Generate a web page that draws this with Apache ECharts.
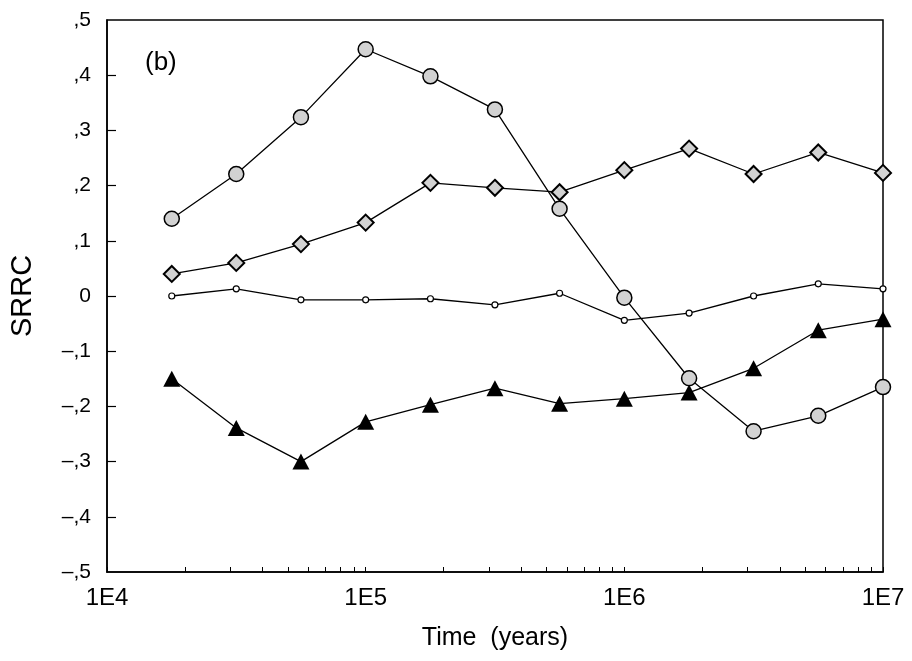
<!DOCTYPE html>
<html>
<head>
<meta charset="utf-8">
<script src="https://cdn.jsdelivr.net/npm/echarts@6/dist/echarts.min.js"></script>
<style>
html,body{margin:0;padding:0;background:#fff;}
#chart{width:912px;height:661px;}
</style>
</head>
<body>
<div id="chart"></div>
<script>
// ---- data ----
var times = [1.78e4, 3.16e4, 5.62e4, 1e5, 1.78e5, 3.16e5, 5.62e5, 1e6, 1.78e6, 3.16e6, 5.62e6, 1e7];
var seriesCircles   = [0.140, 0.221, 0.324, 0.447, 0.398, 0.338, 0.158, -0.003, -0.149, -0.245, -0.217, -0.165];
var seriesDiamonds  = [0.040, 0.060, 0.094, 0.133, 0.205, 0.196, 0.188, 0.228, 0.267, 0.221, 0.260, 0.223];
var seriesSmall     = [0.000, 0.013, -0.007, -0.007, -0.005, -0.016, 0.005, -0.044, -0.031, 0.000, 0.022, 0.013];
var seriesTriangles = [-0.150, -0.239, -0.300, -0.228, -0.197, -0.167, -0.195, -0.186, -0.175, -0.131, -0.062, -0.042];
var yMin = -0.5, yMax = 0.5, yStep = 0.1;
var xMin = 1e4, xMax = 1e7;
var xMinorTicks = [];
for (var e = 4; e < 7; e++) { for (var k = 1; k <= 9; k++) { xMinorTicks.push(k * Math.pow(10, e)); } }
xMinorTicks.push(1e7);
var yTicks = [];
for (var t = -4; t <= 4; t++) { yTicks.push(t / 10); }

function pairs(ys){ return ys.map(function(v,i){ return [times[i], v]; }); }

// stipple pattern for the shaded markers
var pc = document.createElement('canvas');
pc.width = 3; pc.height = 3;
var pctx = pc.getContext('2d');
pctx.fillStyle = '#d2d2d2'; pctx.fillRect(0,0,3,3);
pctx.fillStyle = '#222';
pctx.fillRect(1,1,1,1);
var stipple = { image: pc, repeat: 'repeat' };

var font = 'Liberation Sans, Arial, sans-serif';
var chart = echarts.init(document.getElementById('chart'), null, {renderer:'canvas'});
chart.setOption({
  animation: false,
  backgroundColor: '#fff',
  title: {
    text: '(b)', left: 140, top: 45,
    textStyle: { fontFamily: font, fontWeight: 'normal', fontSize: 26, color: '#000' }
  },
  grid: { left: 107, right: 29, top: 20, bottom: 89, show: true, borderColor: '#000', borderWidth: 1.5, backgroundColor: 'transparent' },
  xAxis: {
    type: 'log', logBase: 10, min: xMin, max: xMax,
    name: 'Time  (years)', nameLocation: 'middle', nameGap: 54,
    nameTextStyle: { fontFamily: font, fontSize: 25, color: '#000' },
    axisLine: { show: true, onZero: false, lineStyle: { color: '#000', width: 1.5 } },
    axisTick: { show: true, inside: true, length: 5, customValues: xMinorTicks, lineStyle: { color: '#000', width: 1 } },
    axisLabel: { fontFamily: font, fontSize: 24, color: '#000', margin: 14,
      formatter: function(v){ return '1E' + Math.round(Math.log10(v)); } },
    splitLine: { show: false }
  },
  yAxis: {
    type: 'value', min: yMin, max: yMax, interval: yStep,
    name: 'SRRC', nameLocation: 'middle', nameGap: 70, nameRotate: 90,
    nameTextStyle: { fontFamily: font, fontSize: 29, color: '#000' },
    axisLine: { show: true, onZero: false, lineStyle: { color: '#000', width: 1.5 } },
    axisTick: { show: true, inside: true, length: 9, customValues: yTicks, lineStyle: { color: '#000', width: 1.2 } },
    axisLabel: { fontFamily: font, fontSize: 21, color: '#000', margin: 16,
      formatter: function(v){
        var r = Math.round(v * 10);
        if (r === 0) return '0';
        return (r < 0 ? '\u2013' : '') + ',' + Math.abs(r);
      } },
    splitLine: { show: false }
  },
  series: [
    { type: 'line', data: pairs(seriesCircles), symbol: 'circle', symbolSize: 15,
      lineStyle: { color: '#000', width: 1.3 },
      itemStyle: { color: stipple, borderColor: '#000', borderWidth: 1.5 } },
    { type: 'line', data: pairs(seriesDiamonds), symbol: 'diamond', symbolSize: 16,
      lineStyle: { color: '#000', width: 1.3 },
      itemStyle: { color: stipple, borderColor: '#000', borderWidth: 2 } },
    { type: 'line', data: pairs(seriesSmall), symbol: 'circle', symbolSize: 6,
      lineStyle: { color: '#000', width: 1.3 },
      itemStyle: { color: '#fff', borderColor: '#000', borderWidth: 1.2 } },
    { type: 'line', data: pairs(seriesTriangles), symbol: 'triangle', symbolSize: [17, 16],
      lineStyle: { color: '#000', width: 1.3 },
      itemStyle: { color: '#000', borderColor: '#000', borderWidth: 0 } }
  ]
});
</script>
</body>
</html>
